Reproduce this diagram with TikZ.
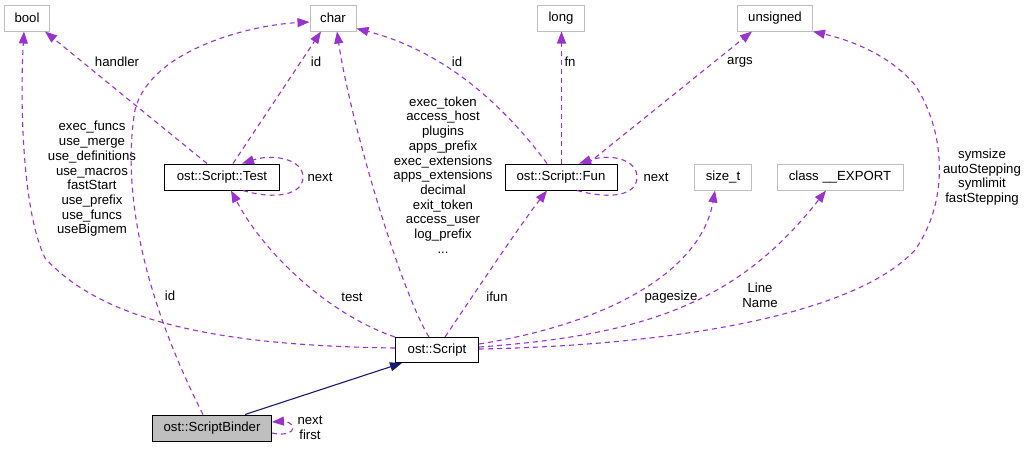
\documentclass[tikz,border=0pt]{standalone}
\usepackage{fontspec}
\setmainfont{Liberation Sans}
\usetikzlibrary{arrows.meta}

\definecolor{edgepurple}{RGB}{154,50,205}
\definecolor{inhnavy}{RGB}{25,25,112}
\definecolor{boxgray}{RGB}{191,191,191}

\begin{document}
\begin{tikzpicture}[x=1pt,y=-1pt,
	font=\fontsize{13.2}{14.7}\selectfont,
	ext/.style={draw=boxgray, line width=1pt, fill=white, minimum height=26pt, inner sep=0pt},
	cls/.style={draw=black, line width=1pt, fill=white, minimum height=26pt, inner sep=0pt},
	usage/.style={draw=edgepurple, line width=1.1pt, dash pattern=on 5pt off 4pt, -{Triangle[length=12pt,width=9pt]}},
	inh/.style={draw=inhnavy, line width=1.1pt, -{Triangle[length=12pt,width=9pt]}},
	lbl/.style={align=center, inner sep=0pt}]
	
	\useasboundingbox (0,0) rectangle (1025,448);
	
	\node[ext, minimum width=45pt] (bool) at (27,18) {bool};
	\node[ext, minimum width=46pt] (char) at (333,18) {char};
	\node[ext, minimum width=47pt] (long) at (561,18) {long};
	\node[ext, minimum width=75pt] (unsigned) at (775,18) {unsigned};
	\node[cls, minimum width=115pt] (test) at (222,177) {ost::Script::Test};
	\node[cls, minimum width=112pt] (fun) at (561,177) {ost::Script::Fun};
	\node[ext, minimum width=57pt] (sizet) at (723,177) {size\_t};
	\node[ext, minimum width=126pt] (export) at (840,177) {class \_\_EXPORT};
	\node[cls, minimum width=83pt, minimum height=25pt] (script) at (437,350) {ost::Script};
	\node[cls, fill=boxgray, minimum width=119pt] (binder) at (212,428) {ost::ScriptBinder};
	
	% ost::Script members
	\draw[usage] ([yshift=2pt]script.west) .. controls (250,346) and (110,330) .. (45,258)
		.. controls (22,210) and (20,100) .. ([xshift=-3pt]bool.south);
	\node[lbl] (lblflags) at (92,179) {exec\_funcs\\use\_merge\\use\_definitions\\use\_macros\\fastStart\\use\_prefix\\use\_funcs\\useBigmem};
	
	\draw[usage] (script.north west) .. controls (330,315) and (265,255) .. ([xshift=9pt]test.south);
	\node[lbl] (lbltest) at (352,297) {test};
	
	\draw[usage] ([xshift=-8pt]script.north) .. controls (400,290) and (350,120) .. ([xshift=4pt]char.south);
	\node[lbl] (lblcfg) at (443,175) {exec\_token\\access\_host\\plugins\\apps\_prefix\\exec\_extensions\\apps\_extensions\\decimal\\exit\_token\\access\_user\\log\_prefix\\...};
	
	\draw[usage] ([xshift=8pt]script.north) .. controls (470,300) and (520,225) .. ([xshift=-14pt]fun.south);
	\node[lbl] (lblifun) at (497,297) {ifun};
	
	\draw[usage] ([yshift=6pt]script.east) .. controls (600,325) and (700,275) .. ([xshift=-8pt]sizet.south);
	\node[lbl] (lblpagesize) at (671,297) {pagesize};
	
	\draw[usage] ([yshift=3pt]script.east) .. controls (650,335) and (740,300) .. ([xshift=-14pt]export.south);
	\node[lbl] (lblline) at (760,295) {Line\\Name};
	
	\draw[usage] ([yshift=1pt]script.east) .. controls (650,346) and (850,320) .. (915,250)
		.. controls (950,200) and (945,130) .. (915,85)
		.. controls (890,55) and (850,40) .. (unsigned.south east);
	\node[lbl] (lblstep) at (982,177) {symsize\\autoStepping\\symlimit\\fastStepping};
	
	% ost::Script::Test members
	\draw[usage] ([xshift=-15pt]test.north) -- ([xshift=18pt]bool.south);
	\node[lbl] (lblhandler) at (117,62) {handler};
	
	\draw[usage] ([xshift=11pt]test.north) -- ([xshift=-12pt]char.south);
	\node[lbl] (lbltestid) at (316,62) {id};
	
	\draw[usage] ([xshift=21pt]test.south) .. controls (275,200) and (303,195) .. (303,177)
		.. controls (303,160) and (275,153) .. ([xshift=20pt]test.north);
	\node[lbl] (lbltestnext) at (320,177) {next};
	
	% ost::Script::Fun members
	\draw[usage] ([xshift=-14pt]fun.north) .. controls (500,100) and (440,50) .. ([yshift=3pt]char.south east);
	\node[lbl] (lblfunid) at (457,62) {id};
	
	\draw[usage] ([xshift=0.5pt]fun.north) -- ([xshift=0.5pt]long.south);
	\node[lbl] (lblfn) at (570,62) {fn};
	
	\draw[usage] ([xshift=27pt]fun.north) -- ([xshift=-23pt]unsigned.south);
	\node[lbl] (lblargs) at (740,62) {args};
	
	\draw[usage] ([xshift=16pt]fun.south) .. controls (612,200) and (637,195) .. (637,177)
		.. controls (637,160) and (612,153) .. ([xshift=18pt]fun.north);
	\node[lbl] (lblfunnext) at (656,177) {next};
	
	% ost::ScriptBinder
	\draw[inh] ([xshift=33pt]binder.north) -- ([xshift=-35pt]script.south);
	
	\draw[usage] ([xshift=-9pt]binder.north) .. controls (150,310) and (120,200) .. (135,110)
		.. controls (150,50) and (250,25) .. ([yshift=-4pt]char.west);
	\node[lbl] (lblbinderid) at (170,296) {id};
	
	\draw[usage] ([yshift=-5pt]binder.east) .. controls (285,436) and (293,432) .. (293,428)
		.. controls (293,423) and (285,421) .. ([yshift=6pt]binder.east);
	\node[lbl] (lblbindernext) at (310,428) {next\\first};
	
\end{tikzpicture}
\end{document}
